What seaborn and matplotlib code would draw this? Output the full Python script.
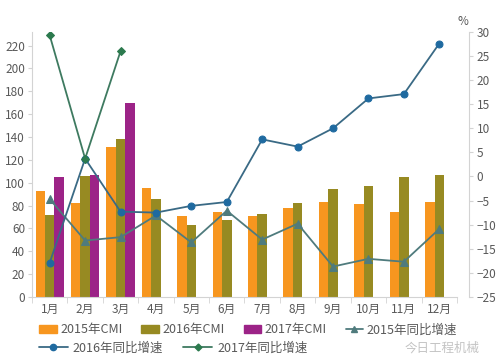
import numpy as np
import pandas as pd
import seaborn as sns
import matplotlib
matplotlib.use('Agg')
import matplotlib.pyplot as plt
from matplotlib.patches import Patch
from matplotlib.lines import Line2D

months = ['1月', '2月', '3月', '4月', '5月', '6月', '7月', '8月', '9月', '10月', '11月', '12月']
cmi_2015 = [93, 82.5, 131, 95, 71, 74, 70.5, 78, 83, 81, 74, 83]
cmi_2016 = [72, 106, 138, 86, 63, 67, 73, 82.5, 94.5, 97, 105, 107]
cmi_2017 = [105, 107, 170, None, None, None, None, None, None, None, None, None]
growth_2015 = [-4.7, -13.3, -12.6, -8.1, -13.7, -7.1, -13.1, -9.8, -18.7, -17.1, -17.7, -10.9]
growth_2016 = [-17.9, 3.7, -7.3, -7.5, -6.1, -5.3, 7.7, 6.2, 10.0, 16.2, 17.1, 27.6]
growth_2017 = [29.3, 3.7, 26.0]

bar_names = ['2015年CMI', '2016年CMI', '2017年CMI']
bar_colors = ['#F7961F', '#978A22', '#9C2387']
c15, c16, c16m, c17, c17m = '#4F7B7D', '#3A6A85', '#1F6AA0', '#3E7A60', '#2C7A4E'
txt = '#595959'
axc = '#D3D3D3'

sns.set_style('white')
plt.rcParams['font.family'] = ['Noto Sans CJK SC', 'DejaVu Sans']

rows = []
for name, vals in zip(bar_names, [cmi_2015, cmi_2016, cmi_2017]):
    for m, v in zip(months, vals):
        rows.append({'month': m, 'series': name, 'value': v})
df = pd.DataFrame(rows)
df['value'] = df['value'].astype(float)

fig = plt.figure(figsize=(5, 3.59), dpi=100)
ax = fig.add_axes([0.064, 0.173, 0.85, 0.738])
sns.barplot(data=df, x='month', y='value', hue='series', order=months, hue_order=bar_names,
            palette=bar_colors, width=0.8, saturation=1, errorbar=None, legend=False,
            linewidth=0, edgecolor='none', ax=ax)

ax2 = ax.twinx()
pos = np.arange(len(months))
sns.lineplot(x=pos, y=growth_2015, ax=ax2, color=c15, lw=1.3, marker='^', ms=6, mec=c15, mfc=c15)
sns.lineplot(x=pos, y=growth_2016, ax=ax2, color=c16, lw=1.3, marker='o', ms=5, mec=c16m, mfc=c16m)
sns.lineplot(x=pos[:3], y=growth_2017, ax=ax2, color=c17, lw=1.3, marker='D', ms=4, mec=c17m, mfc=c17m)

ax.set_xlim(-0.5, 11.5)
ax.set_ylim(0, 232)
ax.set_yticks(range(0, 221, 20))
ax2.set_ylim(-25, 30)
ax2.set_yticks(range(-25, 31, 5))
ax.set_xlabel('')
ax.set_ylabel('')
ax2.set_ylabel('')

for s in ['top', 'right']:
    ax.spines[s].set_visible(False)
for s in ['top', 'left', 'bottom']:
    ax2.spines[s].set_visible(False)
ax.spines['left'].set_color(axc)
ax.spines['bottom'].set_color(axc)
ax2.spines['right'].set_color(axc)
ax2.spines['right'].set_position(('outward', 9))

ax.tick_params(axis='y', length=3, color=axc, labelcolor=txt, labelsize=8.5, pad=2, left=True)
ax2.tick_params(axis='y', length=3, color=axc, labelcolor=txt, labelsize=8.5, pad=2, right=True)
ax.set_xticks(pos)
ax.set_xticklabels(months)
ax.set_xticks(np.arange(-0.5, 12, 1), minor=True)
ax.tick_params(axis='x', which='major', length=0, labelcolor=txt, labelsize=8.5, pad=4)
ax.tick_params(axis='x', which='minor', length=4, color=axc, bottom=True)
ax2.text(1.014, 1.038, '%', transform=ax2.transAxes, ha='center', va='center', color=txt, fontsize=8.5)

h1 = [Patch(color=c) for c in bar_colors]
h1.append(Line2D([], [], color=c15, lw=1.3, marker='^', ms=5, mfc=c15, mec=c15))
fig.legend(h1, bar_names + ['2015年同比增速'], loc='center left', bbox_to_anchor=(0.078, 0.081),
           ncol=4, frameon=False, fontsize=9, labelcolor=txt, handlelength=1.4, handleheight=0.6,
           handletextpad=0.3, columnspacing=1.5, borderpad=0, borderaxespad=0)
h2 = [Line2D([], [], color=c16, lw=1.3, marker='o', ms=4.5, mfc=c16m, mec=c16m),
      Line2D([], [], color=c17, lw=1.3, marker='D', ms=3.5, mfc=c17m, mec=c17m)]
fig.legend(h2, ['2016年同比增速', '2017年同比增速'], loc='center left', bbox_to_anchor=(0.078, 0.031),
           ncol=2, frameon=False, fontsize=9, labelcolor=txt, handlelength=2.3,
           handletextpad=0.4, columnspacing=1.6, borderpad=0, borderaxespad=0)

fig.text(0.81, 0.03, '今日工程机械', color='#C4C4C4', fontsize=9, va='center')

plt.savefig('out.png', dpi=100)
